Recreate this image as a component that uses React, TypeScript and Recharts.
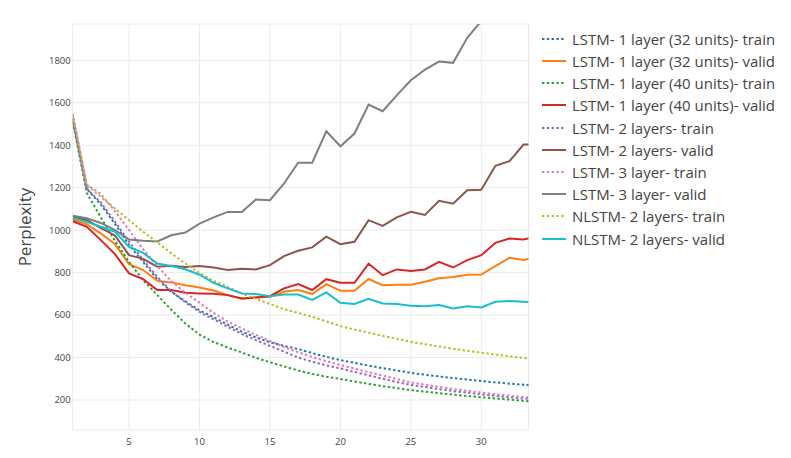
import React from 'react';
import { LineChart, Line, XAxis, YAxis, CartesianGrid } from 'recharts';

// Epoch index (x axis)
const epochs = [1, 2, 3, 4, 5, 6, 7, 8, 9, 10, 11, 12, 13, 14, 15, 16, 17, 18, 19, 20, 21, 22, 23, 24, 25, 26, 27, 28, 29, 30, 31, 32, 33, 34];

// Perplexity per epoch for each model / split
const lstm32Train = [1520, 1195, 1120, 1030, 930, 850, 770, 710, 665, 622, 590, 555, 522, 495, 472, 455, 440, 421, 403, 388, 375, 362, 350, 339, 328, 319, 311, 303, 296, 289, 283, 277, 272, 268];
const lstm32Valid = [1050, 1028, 984, 934, 840, 812, 761, 754, 741, 730, 716, 694, 677, 683, 686, 710, 718, 699, 746, 714, 714, 770, 741, 743, 743, 757, 773, 779, 790, 791, 831, 870, 859, 876];
const lstm40Train = [1510, 1175, 1060, 950, 850, 765, 695, 625, 560, 508, 473, 447, 424, 399, 378, 358, 339, 323, 310, 299, 287, 276, 265, 256, 247, 239, 232, 225, 219, 213, 207, 202, 196, 192];
const lstm40Valid = [1042, 1016, 953, 887, 796, 769, 718, 718, 705, 702, 700, 694, 678, 683, 689, 726, 746, 718, 769, 752, 752, 842, 788, 815, 808, 815, 851, 824, 859, 882, 940, 961, 956, 970];
const lstm2Train = [1530, 1195, 1130, 1040, 945, 860, 780, 712, 660, 615, 580, 545, 511, 482, 455, 428, 400, 380, 363, 349, 332, 316, 300, 285, 271, 261, 251, 242, 234, 227, 220, 213, 207, 204];
const lstm2Valid = [1063, 1048, 1010, 975, 882, 865, 828, 832, 827, 831, 824, 812, 818, 815, 835, 878, 903, 919, 969, 934, 945, 1047, 1020, 1060, 1086, 1072, 1138, 1125, 1188, 1190, 1303, 1325, 1403, 1405];
const lstm3Train = [1550, 1215, 1170, 1090, 1000, 910, 830, 760, 705, 658, 610, 570, 537, 507, 478, 450, 425, 403, 383, 365, 348, 331, 315, 299, 283, 272, 262, 252, 243, 235, 227, 220, 214, 211];
const lstm3Valid = [1068, 1056, 1034, 1000, 956, 950, 947, 976, 989, 1031, 1060, 1086, 1085, 1144, 1141, 1220, 1318, 1318, 1466, 1395, 1455, 1591, 1560, 1635, 1706, 1756, 1794, 1788, 1906, 1985, 2060, 2130, 2190, 2210];
const nlstm2Train = [1540, 1212, 1157, 1102, 1047, 992, 943, 890, 843, 798, 762, 733, 702, 676, 652, 628, 610, 592, 570, 548, 532, 517, 502, 488, 474, 463, 452, 442, 432, 423, 414, 406, 398, 393];
const nlstm2Valid = [1058, 1039, 1016, 992, 921, 893, 843, 831, 816, 790, 752, 726, 702, 699, 689, 697, 697, 671, 707, 658, 652, 677, 655, 652, 644, 642, 647, 631, 642, 636, 663, 666, 663, 655];

const xTicks = [5, 10, 15, 20, 25, 30];
const yTicks = [200, 400, 600, 800, 1000, 1200, 1400, 1600, 1800];

const seriesNames = [
  'LSTM- 1 layer (32 units)- train',
  'LSTM- 1 layer (32 units)- valid',
  'LSTM- 1 layer (40 units)- train',
  'LSTM- 1 layer (40 units)- valid',
  'LSTM- 2 layers- train',
  'LSTM- 2 layers- valid',
  'LSTM- 3 layer- train',
  'LSTM- 3 layer- valid',
  'NLSTM- 2 layers- train',
  'NLSTM- 2 layers- valid',
];

const series = [
  { key: 's0', name: seriesNames[0], values: lstm32Train, color: '#1f77b4', dotted: true },
  { key: 's1', name: seriesNames[1], values: lstm32Valid, color: '#ff7f0e', dotted: false },
  { key: 's2', name: seriesNames[2], values: lstm40Train, color: '#2ca02c', dotted: true },
  { key: 's3', name: seriesNames[3], values: lstm40Valid, color: '#d62728', dotted: false },
  { key: 's4', name: seriesNames[4], values: lstm2Train, color: '#9467bd', dotted: true },
  { key: 's5', name: seriesNames[5], values: lstm2Valid, color: '#8c564b', dotted: false },
  { key: 's6', name: seriesNames[6], values: lstm3Train, color: '#e377c2', dotted: true },
  { key: 's7', name: seriesNames[7], values: lstm3Valid, color: '#7f7f7f', dotted: false },
  { key: 's8', name: seriesNames[8], values: nlstm2Train, color: '#bcbd22', dotted: true },
  { key: 's9', name: seriesNames[9], values: nlstm2Valid, color: '#17becf', dotted: false },
];

const data = epochs.map((epoch, i) => {
  const row: Record<string, number> = { epoch };
  series.forEach((s) => {
    row[s.key] = s.values[i];
  });
  return row;
});

const FONT = '"Open Sans", "Noto Sans", sans-serif';
const DOT_DASH = '2.4 2.4';

// Vertical legend drawn beside the plot area
const LegendBox = () => (
  <div
    style={{
      position: 'absolute',
      left: 541.5,
      top: 27.8,
      fontFamily: FONT,
      fontSize: 15,
      color: '#444',
    }}
  >
    {series.map((s) => (
      <div key={s.key} style={{ display: 'flex', alignItems: 'center', height: 22.2 }}>
        <svg width={24} height={4} style={{ marginRight: 6.5, flex: 'none' }}>
          <line
            x1={0}
            y1={2}
            x2={24}
            y2={2}
            stroke={s.color}
            strokeWidth={2}
            strokeDasharray={s.dotted ? DOT_DASH : undefined}
          />
        </svg>
        <span style={{ whiteSpace: 'nowrap', lineHeight: '22px' }}>{s.name}</span>
      </div>
    ))}
  </div>
);

export default function App() {
  return (
    <div style={{ position: 'absolute', left: 0, top: 0, width: 791, height: 458, background: '#fff' }}>
      <LineChart
        width={791}
        height={458}
        data={data}
        margin={{ top: 24, right: 262.5, bottom: 0, left: 12.7 }}
      >
        <CartesianGrid stroke="#ebebeb" strokeWidth={1} />
        <XAxis
          dataKey="epoch"
          type="number"
          domain={[1, 33.35]}
          allowDataOverflow
          ticks={xTicks}
          interval={0}
          axisLine={false}
          tickLine={false}
          tickSize={0}
          tickMargin={8}
          height={28}
          tick={{ fill: '#444', fontSize: 9.5, fontFamily: FONT }}
        />
        <YAxis
          type="number"
          domain={[58.7, 1971]}
          allowDataOverflow
          ticks={yTicks}
          interval={0}
          axisLine={false}
          tickLine={false}
          tickSize={0}
          tickMargin={2}
          width={60}
          tick={{ fill: '#444', fontSize: 9.5, fontFamily: FONT }}
          label={{
            value: 'Perplexity',
            angle: -90,
            position: 'insideLeft',
            offset: 12.5,
            style: { fill: '#444', fontSize: 17, fontFamily: FONT, textAnchor: 'middle' },
          }}
        />
        {series.map((s) => (
          <Line
            key={s.key}
            dataKey={s.key}
            name={s.name}
            type="linear"
            stroke={s.color}
            strokeWidth={2}
            strokeDasharray={s.dotted ? DOT_DASH : undefined}
            dot={false}
            activeDot={false}
            isAnimationActive={false}
          />
        ))}
      </LineChart>
      <LegendBox />
    </div>
  );
}
